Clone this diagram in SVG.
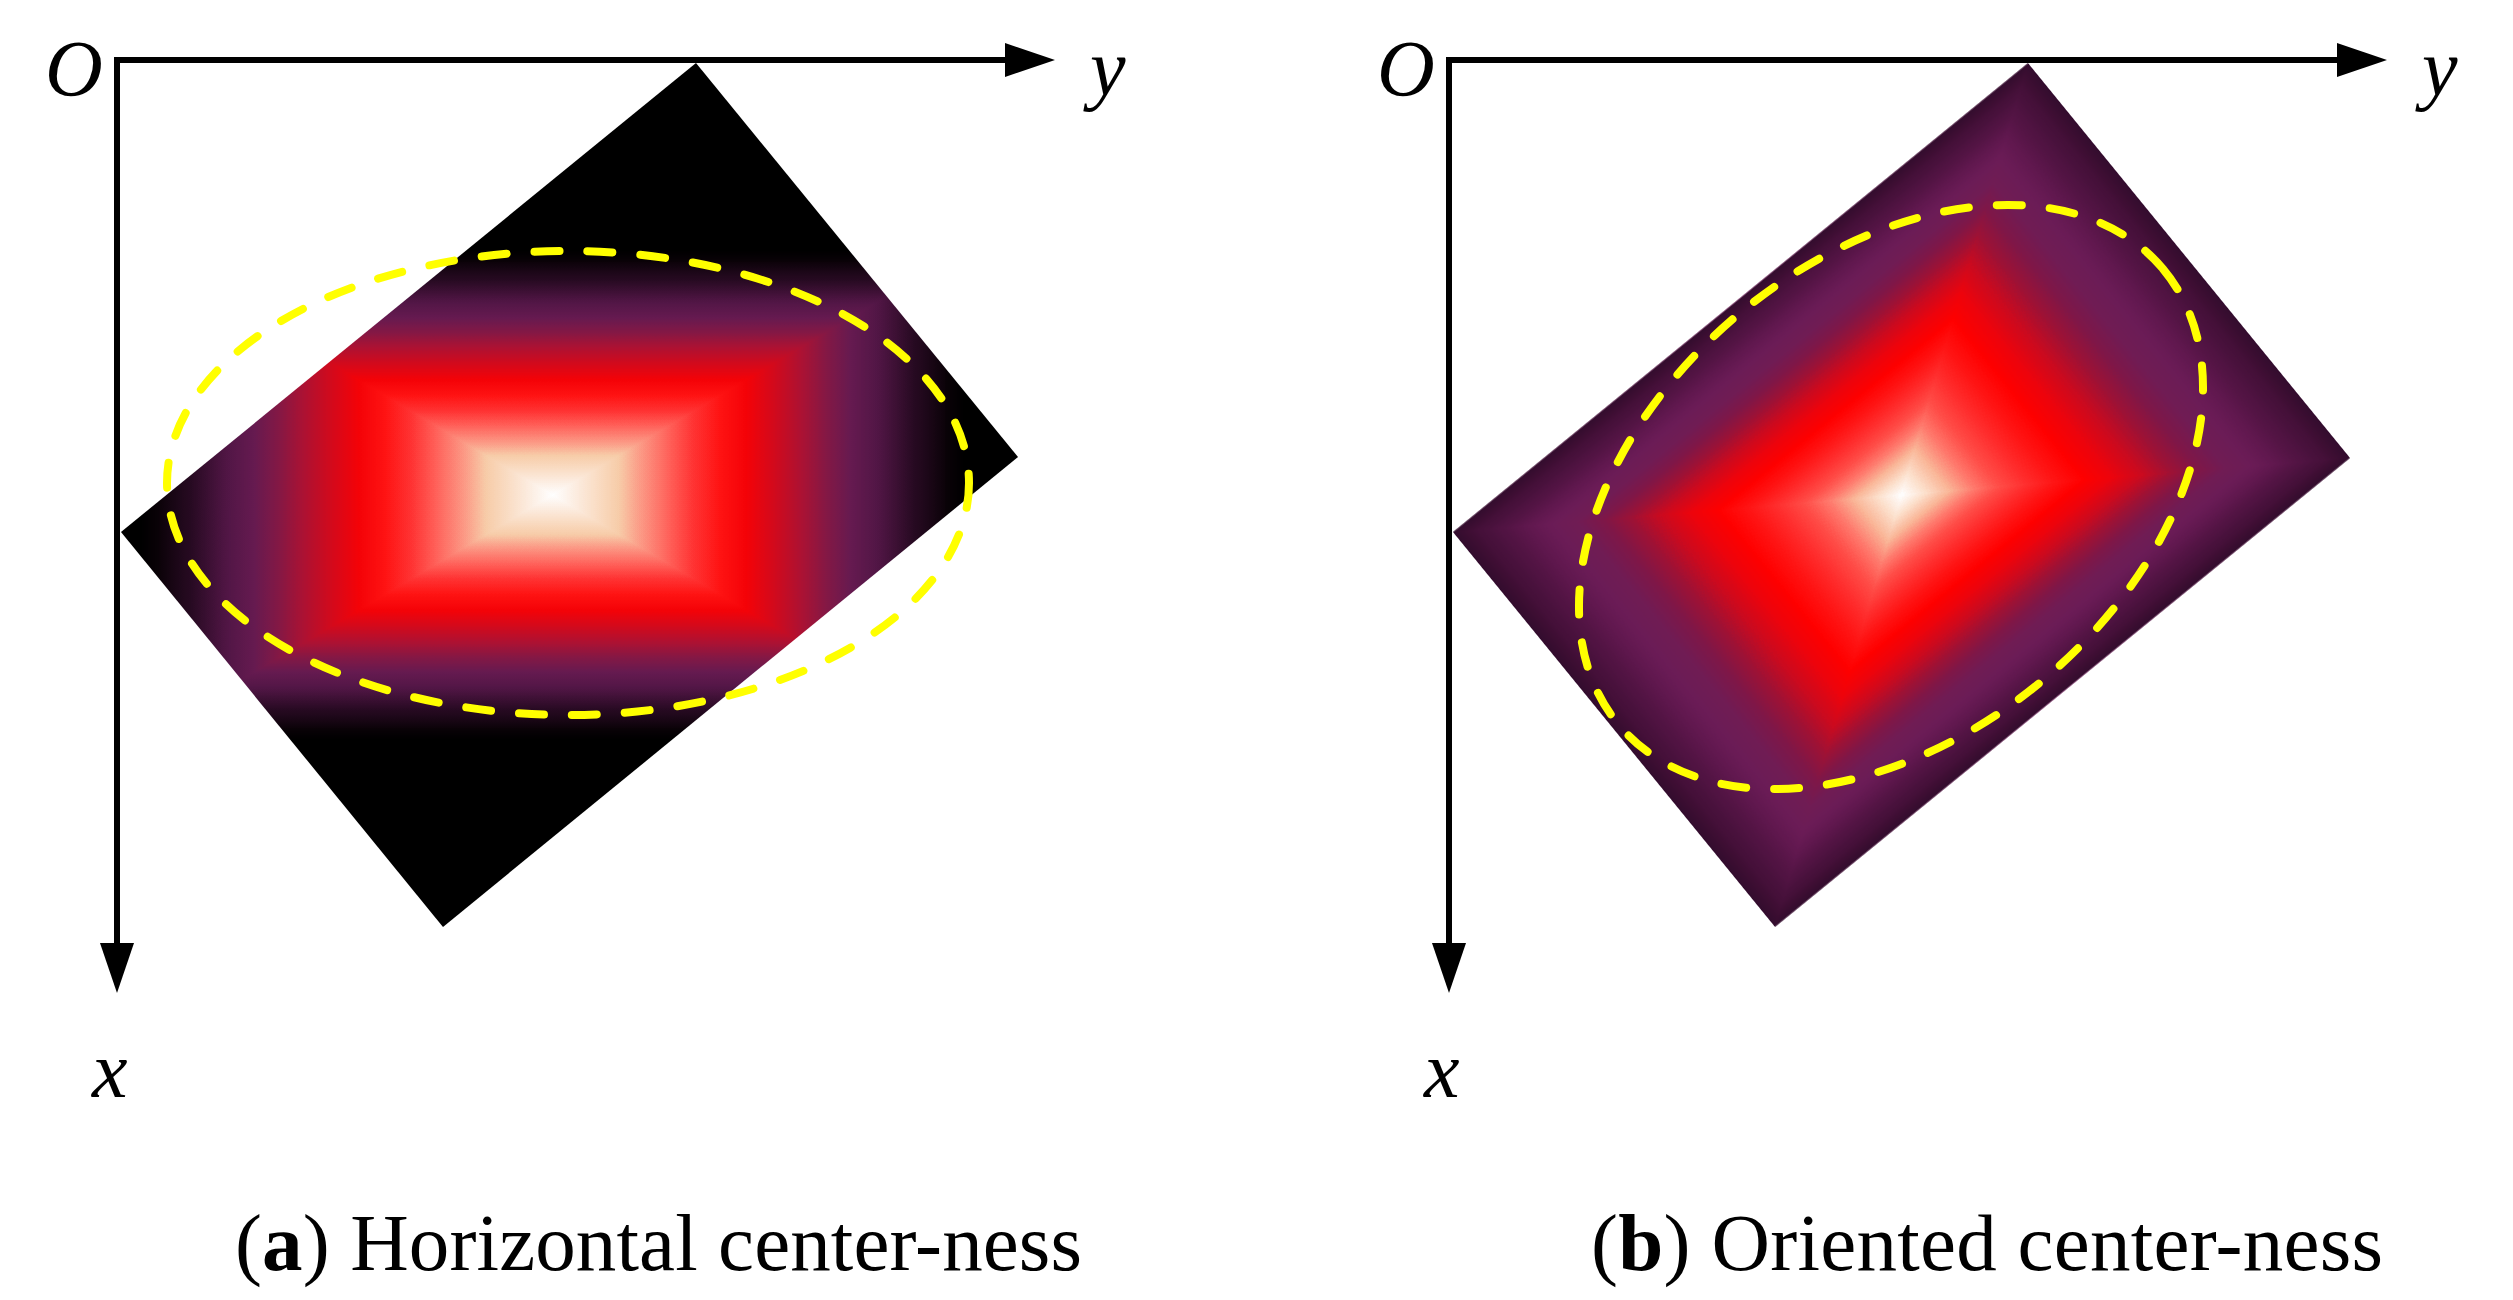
<svg xmlns="http://www.w3.org/2000/svg" width="2513" height="1300" viewBox="0 0 2513 1300">
  <style>
    .axis { fill: none; stroke: #000; stroke-width: 6; stroke-linejoin: miter; marker-start: url(#arrow); marker-end: url(#arrow); }
    .lbl { font-family: "Liberation Serif", "DejaVu Serif", serif; font-style: italic; font-size: 80px; fill: #000; }
    .cap { font-family: "Liberation Serif", "DejaVu Serif", serif; font-size: 81px; fill: #000; }
    .ell { fill: none; stroke: #ffff00; stroke-width: 8; stroke-dasharray: 25 28; stroke-linecap: round; }
    .dk { mix-blend-mode: darken; }
  </style>
  <defs>
    <marker id="arrow" markerUnits="userSpaceOnUse" markerWidth="50" markerHeight="34" refX="5" refY="17" orient="auto-start-reverse" overflow="visible">
      <path d="M0,0 L50,17 L0,34 Z" fill="#000"/>
    </marker>
    <linearGradient id="gBase" x1="0" y1="0" x2="1" y2="0">
      <stop offset="0" stop-color="#000"/>
      <stop offset="0.025" stop-color="#292929"/>
      <stop offset="0.05" stop-color="#3a3a3a"/>
      <stop offset="0.1" stop-color="#555"/>
      <stop offset="0.15" stop-color="#6b6b6b"/>
      <stop offset="0.2" stop-color="#808080"/>
      <stop offset="0.25" stop-color="#939393"/>
      <stop offset="0.3" stop-color="#a7a7a7"/>
      <stop offset="0.35" stop-color="#bbb"/>
      <stop offset="0.4" stop-color="#d0d0d0"/>
      <stop offset="0.45" stop-color="#e7e7e7"/>
      <stop offset="0.5" stop-color="#fff"/>
      <stop offset="0.55" stop-color="#e7e7e7"/>
      <stop offset="0.6" stop-color="#d0d0d0"/>
      <stop offset="0.65" stop-color="#bbb"/>
      <stop offset="0.7" stop-color="#a7a7a7"/>
      <stop offset="0.75" stop-color="#939393"/>
      <stop offset="0.8" stop-color="#808080"/>
      <stop offset="0.85" stop-color="#6b6b6b"/>
      <stop offset="0.9" stop-color="#555"/>
      <stop offset="0.95" stop-color="#3a3a3a"/>
      <stop offset="0.975" stop-color="#292929"/>
      <stop offset="1" stop-color="#000"/>
    </linearGradient>
    <linearGradient id="gHa" href="#gBase" gradientUnits="userSpaceOnUse" x1="140" y1="0" x2="965" y2="0"/>
    <linearGradient id="gVa" href="#gBase" gradientUnits="userSpaceOnUse" x1="0" y1="250" x2="0" y2="740"/>
    <linearGradient id="gHb" href="#gBase" gradientUnits="userSpaceOnUse" x1="-371" y1="0" x2="371" y2="0"/>
    <linearGradient id="gVb" href="#gBase" gradientUnits="userSpaceOnUse" x1="0" y1="-254.5" x2="0" y2="254.5"/>
    <clipPath id="diamondA">
      <polygon points="696,63 1018,457 443,927 121,532"/>
    </clipPath>
    <filter id="cmapA" filterUnits="userSpaceOnUse" x="100" y="50" width="950" height="900" color-interpolation-filters="sRGB">
      <feComponentTransfer>
        <feFuncR type="table" tableValues="0 0.013 0.027 0.04 0.095 0.15 0.24 0.33 0.40 0.52 0.68 0.83 0.96 1 1 1 0.99 0.97 0.98 0.99 1"/>
        <feFuncG type="table" tableValues="0 0.003 0.007 0.01 0.025 0.04 0.065 0.09 0.104 0.096 0.07 0.039 0.01 0.075 0.2 0.39 0.586 0.80 0.867 0.933 1"/>
        <feFuncB type="table" tableValues="0 0.01 0.02 0.03 0.08 0.13 0.205 0.28 0.316 0.27 0.20 0.11 0.03 0.075 0.2 0.36 0.51 0.66 0.773 0.887 1"/>
      </feComponentTransfer>
    </filter>
    <filter id="cmapB" color-interpolation-filters="sRGB">
      <feComponentTransfer>
        <feFuncR type="table" tableValues="0.2 0.22 0.24 0.26 0.29 0.33 0.38 0.42 0.44 0.50 0.62 0.80 0.93 1 1 1 1 1 0.98 0.99 1"/>
        <feFuncG type="table" tableValues="0.05 0.053 0.056 0.06 0.07 0.08 0.095 0.11 0.11 0.09 0.07 0.04 0.015 0 0.08 0.18 0.3 0.48 0.72 0.88 1"/>
        <feFuncB type="table" tableValues="0.18 0.19 0.2 0.215 0.24 0.27 0.31 0.34 0.33 0.28 0.21 0.12 0.05 0 0.08 0.18 0.28 0.43 0.6 0.8 1"/>
      </feComponentTransfer>
    </filter>
  </defs>

  <g id="panel-a">
    <g id="box-a" clip-path="url(#diamondA)">
      <g filter="url(#cmapA)" style="isolation:isolate">
        <rect x="100" y="50" width="950" height="900" fill="url(#gHa)"/>
        <rect class="dk" x="100" y="50" width="950" height="900" fill="url(#gVa)"/>
      </g>
    </g>
    <ellipse id="ellipse-a" class="ell" cx="568" cy="483" rx="401" ry="232"/>
    <text id="label-O-a" class="lbl" x="45" y="96">O</text>
    <text id="label-y-a" class="lbl" x="1090" y="95">y</text>
    <text id="label-x-a" class="lbl" x="92" y="1097">x</text>
    <text id="caption-a" class="cap" x="235" y="1270" textLength="847" lengthAdjust="spacing">(<tspan font-weight="bold">a</tspan>) Horizontal center-ness</text>
  </g>

  <g id="panel-b">
    <g id="box-b" transform="translate(1901.5 495) rotate(-39.2)">
      <g filter="url(#cmapB)" style="isolation:isolate">
        <rect x="-371" y="-254.5" width="742" height="509" fill="url(#gHb)"/>
        <rect class="dk" x="-371" y="-254.5" width="742" height="509" fill="url(#gVb)"/>
      </g>
    </g>
    <ellipse id="ellipse-b" class="ell" cx="0" cy="0" rx="355" ry="238" transform="translate(1891 497) rotate(-40)"/>
    <text id="label-O-b" class="lbl" x="1377" y="96">O</text>
    <text id="label-y-b" class="lbl" x="2422" y="95">y</text>
    <text id="label-x-b" class="lbl" x="1424" y="1097">x</text>
    <text id="caption-b" class="cap" x="1591" y="1270" textLength="792" lengthAdjust="spacing">(<tspan font-weight="bold">b</tspan>) Oriented center-ness</text>
  </g>

  <g id="connectors">
    <path id="axes-a" class="axis" d="M117,948 V60 H1010"/>
    <path id="axes-b" class="axis" d="M1449,948 V60 H2342"/>
  </g>
</svg>
